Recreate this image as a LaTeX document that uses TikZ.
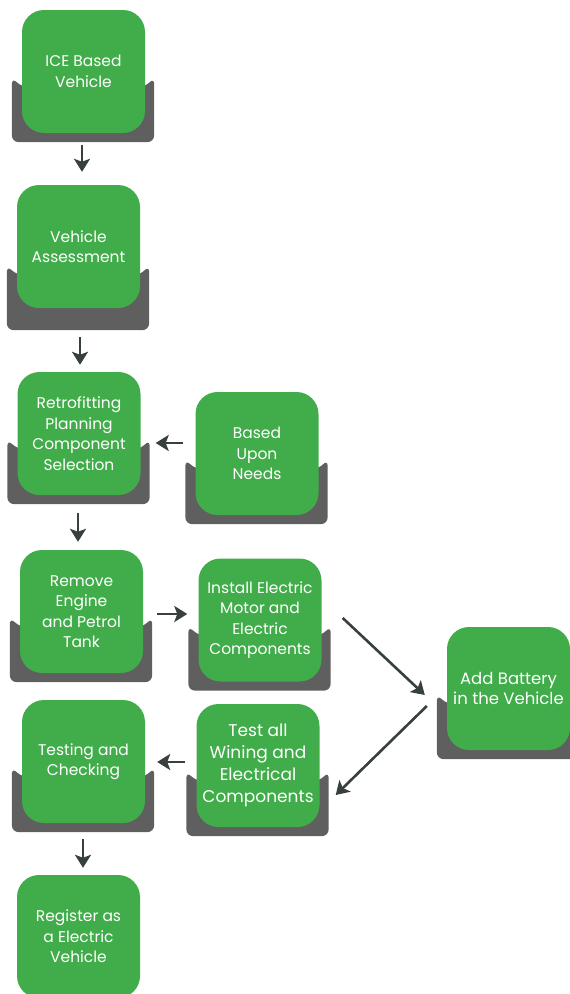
\documentclass[tikz,border=0pt]{standalone}
\usepackage{fontspec}
\setmainfont{Poppins}
\usetikzlibrary{arrows.meta,calc}

\definecolor{boxgreen}{RGB}{65,173,74}
\definecolor{shelfgray}{RGB}{95,95,95}
\definecolor{arrowdark}{RGB}{55,64,60}

\pgfdeclarelayer{back}
\pgfsetlayers{back,main}

\tikzset{
  stage/.style={fill=boxgreen, text=white, rounded corners=22pt,
    minimum width=123pt, minimum height=123pt, inner sep=0pt,
    align=center, font=\fontsize{15.5}{20.5}\selectfont},
  bigstage/.style={stage, font=\fontsize{17}{22}\selectfont},
  flow/.style={draw=arrowdark, line width=2.6pt,
    -{Stealth[length=13pt,width=16pt,inset=3pt]}},
}

% gray base under a stage: #1 = drop below the green box, #2 = node
\newcommand{\stagebase}[2][9]{
  \begin{pgfonlayer}{back}
    \fill[shelfgray, rounded corners=7pt]
      ($(#2.south west)+(0,#1-55)$) -- ($(#2.south west)+(-10,#1-65)$)
      -- ($(#2.south west)+(-10,#1)$) -- ($(#2.south east)+(9,#1)$)
      -- ($(#2.south east)+(9,#1-65)$) -- ($(#2.south east)+(0,#1-55)$)
      -- cycle;
  \end{pgfonlayer}
}

\begin{document}
\begin{tikzpicture}[x=1pt,y=-1pt]
    \useasboundingbox (0,0) rectangle (570,994);

    % the stages
    \node[stage] (ice) at (83.5,71.5) {ICE Based\\Vehicle};
    \node[stage] (assess) at (78.5,246.5) {Vehicle\\Assessment};
    \node[stage] (retro) at (79,433.5)
      {Retrofitting\\Planning\\Component\\Selection};
    \node[stage] (needs) at (257,453.5) {Based\\Upon\\Needs};
    \node[stage] (remove) at (81.5,611.5) {Remove\\Engine\\and Petrol\\Tank};
    \node[stage] (install) at (260,620)
      {Install Electric\\Motor and\\Electric\\Components};
    \node[stage, font=\fontsize{16.5}{20.5}\selectfont] (battery) at (508.5,688.5)
      {Add Battery\\in the Vehicle};
    \node[bigstage] (test) at (258,765.5)
      {Test all\\Wining and\\Electrical\\Components};
    \node[stage] (testing) at (83.5,761.5) {Testing and\\Checking};
    \node[stage] (register) at (78.5,936.5) {Register as\\a Electric\\Vehicle};

    % the gray bases
    \foreach \s in {ice,retro,needs,remove,install,battery,test,testing}
      {\stagebase{\s}}
    \stagebase[22]{assess}

    % the arrows
    \draw[flow, shorten <=12pt, shorten >=13pt]
      ([xshift=-1.5pt]ice.south) -- ([xshift=-1.5pt]ice.south |- assess.north);
    \draw[flow, shorten <=29pt, shorten >=7pt]
      ([xshift=1.5pt]assess.south) -- ([xshift=1.5pt]assess.south |- retro.north);
    \draw[flow, shorten <=12pt, shorten >=15pt]
      ([yshift=10.5pt]needs.west) -- ([yshift=10.5pt]needs.west -| retro.east);
    \draw[flow, shorten <=18pt, shorten >=8pt]
      ([xshift=-1pt]retro.south) -- ([xshift=-1pt]retro.south |- remove.north);
    \draw[flow, shorten <=14pt, shorten >=11pt]
      ([yshift=-2.5pt]remove.east) -- ([yshift=-2.5pt]remove.east -| install.west);
    \draw[flow] ([shift={(21,-2)}]install.east)
      -- ([shift={(-22,6.5)}]battery.west);
    \draw[flow] ([shift={(-20,17.5)}]battery.west)
      -- ([shift={(16,29.5)}]test.east);
    \draw[flow, shorten <=11pt, shorten >=12pt]
      ([yshift=3.5pt]test.west) -- ([yshift=3.5pt]test.west -| testing.east);
    \draw[flow, shorten <=16pt, shorten >=7pt]
      ([xshift=-0.5pt]testing.south) -- ([xshift=-0.5pt]testing.south |- register.north);
\end{tikzpicture}
\end{document}
